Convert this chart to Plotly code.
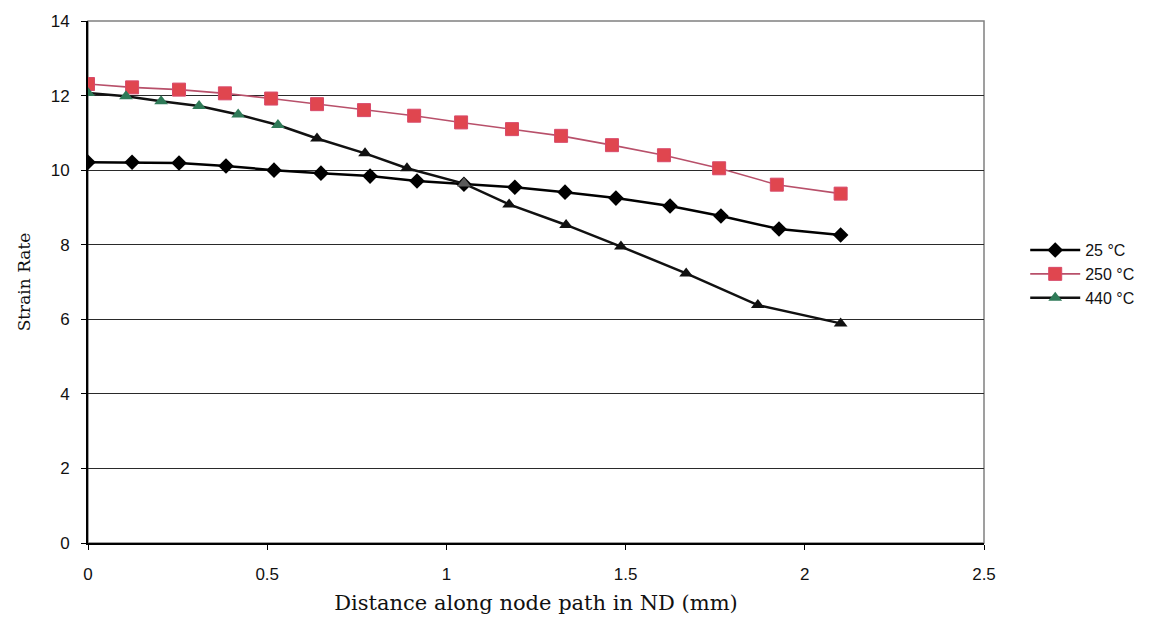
import plotly.graph_objects as go

# Strain rate along the node path (ND) at three deformation temperatures
dist_25 = [0, 0.123, 0.254, 0.385, 0.519, 0.650, 0.787, 0.918, 1.049, 1.191,
           1.331, 1.473, 1.624, 1.766, 1.928, 2.10]
rate_25 = [10.21, 10.21, 10.19, 10.11, 10.00, 9.92, 9.84, 9.71, 9.62, 9.54,
           9.41, 9.25, 9.04, 8.77, 8.42, 8.26]

dist_250 = [0, 0.123, 0.254, 0.382, 0.511, 0.639, 0.770, 0.910, 1.041, 1.183,
            1.320, 1.462, 1.607, 1.761, 1.922, 2.10]
rate_250 = [12.31, 12.22, 12.16, 12.06, 11.92, 11.77, 11.61, 11.46, 11.28, 11.10,
            10.92, 10.67, 10.40, 10.05, 9.61, 9.37]

dist_440 = [0, 0.106, 0.204, 0.310, 0.419, 0.530, 0.639, 0.773, 0.890, 1.049,
            1.175, 1.334, 1.487, 1.669, 1.869, 2.10]
rate_440 = [12.07, 11.98, 11.85, 11.72, 11.49, 11.21, 10.85, 10.45, 10.05, 9.64,
            9.08, 8.53, 7.95, 7.23, 6.38, 5.89]
# marker tint per point of the 440 °C series
tint_440 = ["#2f7a58"] * 6 + ["#111111"] * 3 + ["#5a5a5a"] + ["#111111"] * 6

series_names = ["25 °C", "250 °C", "440 °C"]
x_ticks = [0, 0.5, 1, 1.5, 2, 2.5]
x_tick_text = ["0", "0.5", "1", "1.5", "2", "2.5"]
y_ticks = [0, 2, 4, 6, 8, 10, 12, 14]

tick_font = dict(family="Liberation Sans, Arial, sans-serif", size=17, color="#111")
serif = "DejaVu Serif, Liberation Serif, serif"

fig = go.Figure()
fig.add_trace(go.Scatter(
    x=dist_25, y=rate_25, name=series_names[0], mode="lines+markers",
    line=dict(color="#000000", width=2.5),
    marker=dict(symbol="diamond", size=12, color="#000000"),
))
fig.add_trace(go.Scatter(
    x=dist_250, y=rate_250, name=series_names[1], mode="lines+markers",
    line=dict(color="#b8506a", width=1.6),
    marker=dict(symbol="square", size=13, color="#e0464f",
                line=dict(color="#d84a6a", width=1)),
))
fig.add_trace(go.Scatter(
    x=dist_440, y=rate_440, name=series_names[2], mode="lines+markers",
    line=dict(color="#111111", width=2.5),
    marker=dict(symbol="triangle-up", size=12, color=tint_440),
))

fig.update_layout(
    width=1163, height=632,
    margin=dict(l=88, r=179, t=21, b=89),
    paper_bgcolor="white", plot_bgcolor="white",
    showlegend=True,
    legend=dict(x=1.046, xanchor="left", y=0.515, yanchor="middle",
                font=dict(family="Liberation Sans, Arial, sans-serif", size=16, color="#111"),
                bgcolor="rgba(0,0,0,0)", itemwidth=50, tracegroupgap=0),
    shapes=[dict(type="rect", xref="paper", yref="paper", x0=0, x1=1, y0=0, y1=1,
                 line=dict(color="#808080", width=1.5), layer="below")],
)
fig.update_xaxes(
    range=[0, 2.5], tickvals=x_ticks, ticktext=x_tick_text,
    showgrid=False, zeroline=False,
    showline=True, linecolor="#000", linewidth=2,
    ticks="outside", ticklen=5, tickcolor="#000", tickwidth=1,
    tickfont=tick_font, ticklabelstandoff=10,
    title=dict(text="Distance along node path in ND (mm)",
               font=dict(family=serif, size=21, color="#111"), standoff=12),
)
fig.update_yaxes(
    range=[0, 14], tickvals=y_ticks,
    showgrid=True, gridcolor="#2a2a2a", gridwidth=1, zeroline=False,
    showline=True, linecolor="#000", linewidth=2,
    ticks="outside", ticklen=5, tickcolor="#000", tickwidth=1,
    tickfont=tick_font, ticklabelstandoff=8,
    title=dict(text="Strain Rate", font=dict(family=serif, size=17, color="#111"), standoff=16),
)

fig.write_html("out.html")
